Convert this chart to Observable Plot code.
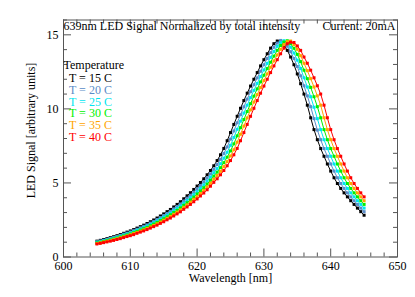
<!DOCTYPE html>
<html><head><meta charset="utf-8">
<script src="https://cdn.jsdelivr.net/npm/d3@7"></script>
<script src="https://cdn.jsdelivr.net/npm/@observablehq/plot@0.6"></script>
<style>body{margin:0;background:#fff}</style>
</head><body><div id="chart"></div>
<script>
const wavelengths = [
605,605.5,606,606.5,607,607.5,608,608.5,609,609.5,
610,610.5,611,611.5,612,612.5,613,613.5,614,614.5,
615,615.5,616,616.5,617,617.5,618,618.5,619,619.5,
620,620.5,621,621.5,622,622.5,623,623.5,624,624.5,
625,625.5,626,626.5,627,627.5,628,628.5,629,629.5,
630,630.5,631,631.5,632,632.5,633,633.5,634,634.5,
635,635.5,636,636.5,637,637.5,638,638.5,639,639.5,
640,640.5,641,641.5,642,642.5,643,643.5,644,644.5,
645];
const t15 = [
1.07,1.125,1.18,1.24,1.31,1.37,1.44,1.52,1.60,1.68,
1.76,1.85,1.95,2.05,2.15,2.26,2.38,2.50,2.63,2.77,
2.91,3.06,3.21,3.38,3.55,3.73,3.93,4.13,4.34,4.56,
4.79,5.03,5.28,5.55,5.84,6.16,6.51,6.9,7.33,7.85,
8.4,8.95,9.5,10.04,10.56,11.06,11.54,12.0,12.45,12.9,
13.32,13.72,14.1,14.4,14.58,14.55,14.3,13.95,13.5,12.98,
12.36,11.7,11.0,10.25,9.4,8.6,7.92,7.32,6.8,6.28,
5.8,5.35,4.96,4.63,4.33,4.06,3.8,3.55,3.3,3.06,
2.82];
const t20 = [
1.03,1.08,1.13,1.19,1.26,1.32,1.38,1.46,1.54,1.61,
1.69,1.78,1.87,1.97,2.07,2.17,2.29,2.40,2.53,2.66,
2.80,2.94,3.08,3.25,3.41,3.58,3.78,3.97,4.17,4.38,
4.60,4.83,5.07,5.33,5.61,5.92,6.24,6.59,6.99,7.43,
7.96,8.51,9.06,9.61,10.14,10.66,11.16,11.63,12.09,12.54,
12.98,13.40,13.80,14.16,14.44,14.62,14.50,14.23,13.86,13.40,
12.86,12.23,11.56,10.88,10.15,9.34,8.57,7.92,7.32,6.8,
6.28,5.8,5.35,4.96,4.63,4.33,4.06,3.8,3.55,3.3,
3.06];
const t25 = [
0.99,1.04,1.09,1.14,1.21,1.26,1.33,1.40,1.48,1.55,
1.62,1.71,1.80,1.89,1.98,2.09,2.20,2.31,2.43,2.56,
2.69,2.82,2.96,3.12,3.28,3.44,3.63,3.81,4.01,4.21,
4.42,4.64,4.87,5.12,5.39,5.69,5.97,6.30,6.67,7.07,
7.54,8.07,8.62,9.17,9.72,10.25,10.76,11.25,11.72,12.18,
12.63,13.07,13.48,13.87,14.22,14.47,14.6,14.45,14.16,13.77,
13.29,12.73,12.10,11.48,10.82,10.11,9.34,8.6,7.92,7.32,
6.8,6.28,5.8,5.35,4.96,4.63,4.33,4.06,3.8,3.55,
3.3];
const t30 = [
0.95,1.00,1.05,1.10,1.16,1.22,1.28,1.35,1.42,1.49,
1.56,1.64,1.73,1.82,1.91,2.00,2.11,2.22,2.33,2.46,
2.58,2.71,2.85,3.00,3.15,3.31,3.49,3.66,3.85,4.04,
4.25,4.46,4.68,4.92,5.18,5.46,5.73,6.03,6.37,6.74,
7.16,7.64,8.18,8.73,9.28,9.82,10.35,10.86,11.35,11.82,
12.27,12.72,13.15,13.56,13.95,14.28,14.51,14.6,14.40,14.09,
13.68,13.19,12.61,12.04,11.45,10.82,10.15,9.4,8.6,7.92,
7.32,6.8,6.28,5.8,5.35,4.96,4.63,4.33,4.06,3.8,
3.55];
const t35 = [
0.91,0.96,1.01,1.06,1.12,1.17,1.23,1.30,1.36,1.43,
1.50,1.58,1.66,1.75,1.83,1.93,2.03,2.13,2.24,2.36,
2.48,2.61,2.74,2.88,3.03,3.18,3.35,3.52,3.70,3.89,
4.08,4.29,4.50,4.73,4.98,5.25,5.50,5.78,6.10,6.44,
6.82,7.24,7.75,8.29,8.84,9.39,9.93,10.46,10.96,11.44,
11.91,12.36,12.81,13.24,13.64,14.02,14.34,14.54,14.58,14.35,
14.02,13.59,13.08,12.58,12.04,11.48,10.88,10.25,9.4,8.6,
7.92,7.32,6.8,6.28,5.8,5.35,4.96,4.63,4.33,4.06,
3.8];
const t40 = [
0.88,0.92,0.97,1.02,1.07,1.12,1.18,1.24,1.31,1.38,
1.44,1.51,1.60,1.68,1.76,1.85,1.95,2.05,2.15,2.27,
2.38,2.51,2.63,2.77,2.91,3.05,3.22,3.38,3.55,3.73,
3.92,4.12,4.32,4.54,4.78,5.04,5.28,5.55,5.84,6.16,
6.51,6.9,7.33,7.85,8.4,8.95,9.5,10.04,10.56,11.06,
11.54,12.0,12.45,12.9,13.32,13.72,14.1,14.4,14.5,14.48,
14.25,13.95,13.5,13.08,12.61,12.10,11.56,11.0,10.25,9.4,
8.6,7.92,7.32,6.8,6.28,5.8,5.35,4.96,4.63,4.33,
4.06];
const temperatures = [15, 20, 25, 30, 35, 40];
const legendLabels = ["T = 15 C", "T = 20 C", "T = 25 C", "T = 30 C", "T = 35 C", "T = 40 C"];
const seriesColors = ["#000000", "#5a8cc8", "#00e6f0", "#00f000", "#ffa500", "#ff0000"];
const xTicks = [600, 610, 620, 630, 640, 650];
const yTicks = [0, 5, 10, 15];
const titleLeft = "639nm LED Signal Normalized by total intensity";
const titleRight = "Current: 20mA";
const xLabel = "Wavelength [nm]";
const yLabel = "LED Signal [arbitrary units]";

const series = [t15, t20, t25, t30, t35, t40];
const rows = [];
series.forEach((vals, k) => vals.forEach((v, i) => rows.push({wl: wavelengths[i], signal: v, temp: temperatures[k]})));
const xMinor = d3.range(600, 650.1, 2).filter(v => v % 10 !== 0);
const yMinor = d3.range(0, 16.1, 1).filter(v => v % 5 !== 0);

const W = 415, H = 297, mL = 63, mR = 18, mT = 19.5, mB = 40.5;
const fh = H - mT - mB, fw = W - mL - mR;
const maj = 8, mino = 4;
const axisColor = "#555";

const marks = [
  Plot.frame({stroke: axisColor}),
  Plot.ruleX(xTicks, {x: d => d, insetTop: fh - maj, stroke: axisColor}),
  Plot.ruleX(xTicks, {x: d => d, insetBottom: fh - maj, stroke: axisColor}),
  Plot.ruleX(xMinor, {x: d => d, insetTop: fh - mino, stroke: axisColor}),
  Plot.ruleX(xMinor, {x: d => d, insetBottom: fh - mino, stroke: axisColor}),
  Plot.ruleY(yTicks, {y: d => d, insetRight: fw - maj, stroke: axisColor}),
  Plot.ruleY(yTicks, {y: d => d, insetLeft: fw - maj, stroke: axisColor}),
  Plot.ruleY(yMinor, {y: d => d, insetRight: fw - mino, stroke: axisColor}),
  Plot.ruleY(yMinor, {y: d => d, insetLeft: fw - mino, stroke: axisColor}),
  Plot.text(xTicks, {x: d => d, text: d => String(d), frameAnchor: "bottom", dy: 13, fill: "#000"}),
  Plot.text(yTicks, {y: d => d, text: d => String(d), frameAnchor: "left", dx: -5, textAnchor: "end", fill: "#000"}),
  Plot.text([xLabel], {frameAnchor: "bottom", dy: 25, fill: "#000"}),
  Plot.text([yLabel], {frameAnchor: "left", textAnchor: "middle", dx: -32, dy: -8, rotate: -90, fill: "#000"}),
  Plot.text([titleLeft], {frameAnchor: "top-left", textAnchor: "start", lineAnchor: "top", dy: 1, fill: "#000"}),
  Plot.text([titleRight], {frameAnchor: "top-right", textAnchor: "end", lineAnchor: "top", dx: -2, dy: 1, fill: "#000"}),
  Plot.text(["Temperature"], {frameAnchor: "top-left", textAnchor: "start", dy: 40.5, fill: "#000"})
];
temperatures.forEach((t, k) => {
  marks.push(Plot.text([legendLabels[k]], {frameAnchor: "top-left", textAnchor: "start", dx: 5.5, dy: 53.8 + 11.7 * k, fill: seriesColors[k]}));
});
temperatures.forEach((t, k) => {
  const sub = rows.filter(r => r.temp === t);
  marks.push(Plot.line(sub, {x: "wl", y: "signal", stroke: seriesColors[k], strokeWidth: 1}));
  marks.push(Plot.dot(sub, {x: "wl", y: "signal", symbol: "square", r: 1.7, fill: seriesColors[k], stroke: "none"}));
});

const chart = Plot.plot({
  width: W, height: H,
  marginLeft: mL, marginRight: mR, marginTop: mT, marginBottom: mB,
  x: {domain: [600, 650], axis: null},
  y: {domain: [0, 16], axis: null},
  style: {fontFamily: "'Liberation Serif', 'DejaVu Serif', serif", fontSize: "12px", background: "#fff", color: "#000"},
  marks
});
document.getElementById("chart").appendChild(chart);
</script>
</body></html>
